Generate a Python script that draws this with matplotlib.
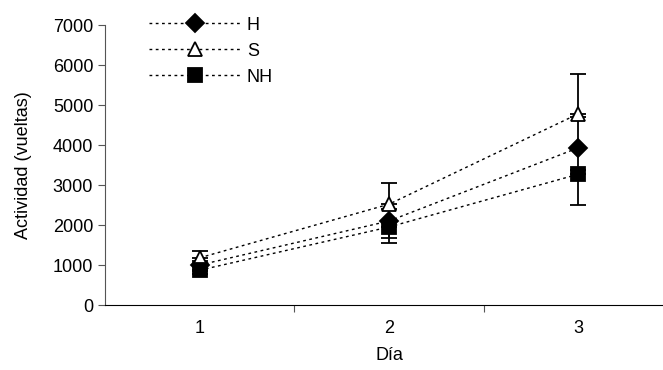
import matplotlib
matplotlib.use("Agg")
import matplotlib.pyplot as plt
from matplotlib.lines import Line2D

plt.rcParams['font.family'] = ['Liberation Sans', 'DejaVu Sans']

# datos
dias = [1, 2, 3]
H = [1000, 2100, 3930]
H_err_inf = [150, 420, 550]
H_err_sup = [100, 300, 760]
S = [1180, 2520, 4780]
S_err_sup = [180, 530, 1000]
NH = [870, 1950, 3270]
NH_err_inf = [100, 400, 780]

fig = plt.figure(figsize=(6.63, 3.70), dpi=100)
ax = fig.add_axes([105 / 663, 1 - 305 / 370, 568 / 663, 280 / 370])

linea = dict(color='black', linestyle=(0, (2, 2.5)), linewidth=1.0,
             markeredgecolor='black', markeredgewidth=1.3)
barras = dict(ecolor='black', elinewidth=1.3, capsize=5.5, capthick=1.3)

# cada serie en su propia capa para que los marcadores tapen las barras de abajo
ax.errorbar(dias, H, yerr=[H_err_inf, H_err_sup], marker='D', markersize=9.5,
            markerfacecolor='black', zorder=2, **linea, **barras)
ax.errorbar(dias, S, yerr=[[0, 0, 0], S_err_sup], marker='^', markersize=10.5,
            markerfacecolor='white', zorder=3, **linea, **barras)
ax.errorbar(dias, NH, yerr=[NH_err_inf, [0, 0, 0]], marker='s', markersize=10,
            markerfacecolor='black', zorder=4, **linea, **barras)

ax.set_xlim(0.5, 3.5)
ax.set_ylim(0, 7000)
ax.set_yticks(range(0, 7001, 1000))
ax.set_xticks(dias)
ax.set_xticks([1.5, 2.5], minor=True)
ax.tick_params(axis='x', which='major', length=0, pad=11, labelsize=13)
ax.tick_params(axis='x', which='minor', length=5, direction='out', width=0.8, color='#555555')
ax.tick_params(axis='y', length=5, direction='out', width=0.8, labelsize=13, color='#555555')

for lado in ['top', 'right']:
    ax.spines[lado].set_visible(False)
ax.spines['left'].set_color('#555555')
ax.spines['bottom'].set_color('black')

ax.set_xlabel('Día', fontsize=13, labelpad=7)
ax.set_ylabel('Actividad (vueltas)', fontsize=13, labelpad=15)

handles = [
    Line2D([], [], marker='D', markersize=9.5, markerfacecolor='black', **linea),
    Line2D([], [], marker='^', markersize=10.5, markerfacecolor='white', **linea),
    Line2D([], [], marker='s', markersize=10, markerfacecolor='black', **linea),
]
ax.legend(handles, ['H', 'S', 'NH'], loc='upper left', bbox_to_anchor=(0.048, 1.088),
          frameon=False, fontsize=13, handlelength=5.1, handletextpad=0.35,
          labelspacing=0.5)

plt.savefig('out.png', dpi=100)
